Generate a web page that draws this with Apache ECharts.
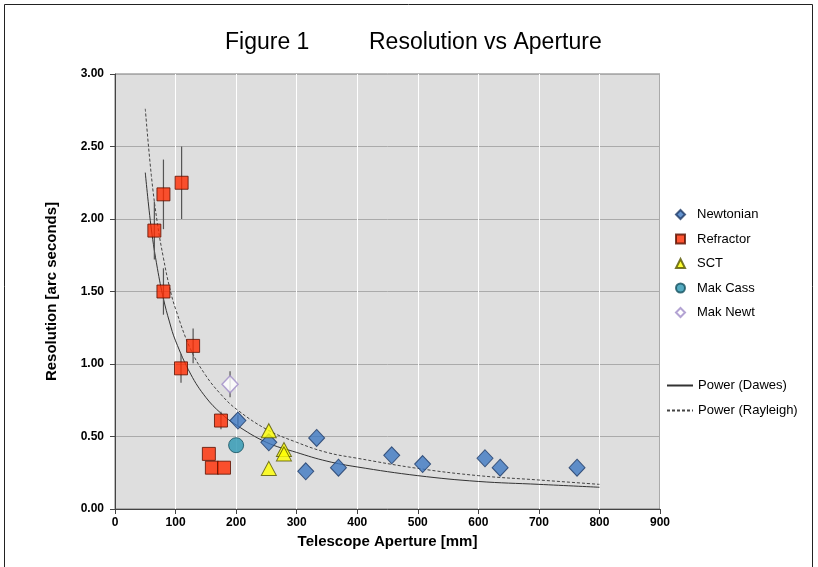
<!DOCTYPE html>
<html><head><meta charset="utf-8">
<script src="https://cdn.jsdelivr.net/npm/echarts@6/dist/echarts.min.js"></script>
<style>html,body{margin:0;padding:0;background:#fff}#c{width:818px;height:567px}</style>
</head><body><div id="c"></div>
<script>
// [aperture mm, resolution arcsec, error]
var newtonian = [[203,0.61,0.04],[254,0.46,0],[315,0.26,0],[333,0.49,0],[369,0.285,0],[457,0.37,0],[508,0.31,0],[611,0.35,0],[636,0.285,0],[763,0.285,0]];
var refractor = [[65,1.92,0.2],[80,2.17,0.24],[110,2.25,0.25],[80,1.50,0.16],[129,1.125,0.12],[109,0.97,0.1],[175,0.61,0.06],[155,0.38,0],[160,0.285,0],[180,0.285,0]];
var sct = [[254,0.54],[254,0.28],[279,0.41],[279,0.38]];
var makCass = [[200,0.44]];
var makNewt = [[190,0.86,0.09]];
var dawes = [[50,2.32],[60,1.93],[70,1.66],[80,1.45],[90,1.29],[100,1.16],[125,0.93],[150,0.77],[175,0.66],[200,0.58],[250,0.46],[300,0.39],[350,0.33],[400,0.29],[500,0.23],[600,0.19],[700,0.17],[800,0.15]];
var rayleigh = [[50,2.76],[60,2.30],[70,1.97],[80,1.73],[90,1.53],[100,1.38],[125,1.10],[150,0.92],[175,0.79],[200,0.69],[250,0.55],[300,0.46],[350,0.39],[400,0.35],[500,0.28],[600,0.23],[700,0.20],[800,0.17]];
var xTicks = [0,100,200,300,400,500,600,700,800,900];
var yTicks = [0,0.5,1,1.5,2,2.5,3];

var errData = [].concat(newtonian, refractor, makNewt).filter(function(d){return d[2]>0;});
var FONT = 'Liberation Sans, Arial, sans-serif';
var chart = echarts.init(document.getElementById('c'));
chart.setOption({
  animation:false,
  backgroundColor:'#fff',
  graphic:[{type:'rect',shape:{x:4.5,y:4.5,width:808,height:600},style:{fill:'none',stroke:'#222',lineWidth:1},silent:true}],
  title:[
    {text:'Figure 1',left:220,top:26,textStyle:{fontFamily:FONT,fontSize:23,fontWeight:'normal',color:'#000'}},
    {text:'Resolution vs Aperture',left:364,top:26,textStyle:{fontFamily:FONT,fontSize:23,fontWeight:'normal',color:'#000'}}
  ],
  grid:{left:115,right:158,top:74,bottom:58,show:true,backgroundColor:'#dedede',borderColor:'#777',borderWidth:1},
  legend:[
    {orient:'vertical',left:670,top:203,itemGap:11.5,itemWidth:9,itemHeight:9,
     textStyle:{fontFamily:FONT,fontSize:13,color:'#000',padding:[0,0,0,7]},
     data:['Newtonian','Refractor','SCT','Mak Cass','Mak Newt']},
    {orient:'vertical',left:661,top:374,itemGap:12,itemWidth:26,itemHeight:10,
     textStyle:{fontFamily:FONT,fontSize:13,color:'#000'},
     data:[{name:'Power (Dawes)',itemStyle:{opacity:0}},{name:'Power (Rayleigh)',itemStyle:{opacity:0}}]}
  ],
  xAxis:{type:'value',min:0,max:900,interval:100,
    name:'Telescope Aperture [mm]',nameLocation:'middle',nameGap:25,
    nameTextStyle:{fontFamily:FONT,fontSize:15,fontWeight:'bold',color:'#000'},
    axisLine:{lineStyle:{color:'#444'}},axisTick:{show:true,length:5,lineStyle:{color:'#444'}},
    axisLabel:{fontFamily:FONT,fontSize:12,fontWeight:'bold',color:'#000',margin:8},
    splitLine:{show:true,lineStyle:{color:'#fff',width:1}}},
  yAxis:{type:'value',min:0,max:3,interval:0.5,
    name:'Resolution [arc seconds]',nameLocation:'middle',nameGap:56,
    nameTextStyle:{fontFamily:FONT,fontSize:15,fontWeight:'bold',color:'#000'},
    axisLine:{show:true,lineStyle:{color:'#444'}},axisTick:{show:true,length:5,lineStyle:{color:'#444'}},
    axisLabel:{fontFamily:FONT,fontSize:12,fontWeight:'bold',color:'#000',margin:11,formatter:function(v){return v.toFixed(2);}},
    splitLine:{show:true,lineStyle:{color:'#aaa',width:1}}},
  series:[
    {name:'Power (Dawes)',type:'line',data:dawes,smooth:0.4,symbol:'none',z:2,
     lineStyle:{color:'#333',width:1},itemStyle:{color:'#333'}},
    {name:'Power (Rayleigh)',type:'line',data:rayleigh,smooth:0.4,symbol:'none',z:2,
     lineStyle:{color:'#444',width:1,type:[3,2]},itemStyle:{color:'#444'}},
    {name:'err',type:'custom',z:3,data:errData,
     renderItem:function(params,api){
       var x=api.value(0),y=api.value(1),e=api.value(2);
       var p1=api.coord([x,y+e]),p2=api.coord([x,y-e]);
       return {type:'line',shape:{x1:p1[0],y1:p1[1],x2:p2[0],y2:p2[1]},style:{stroke:'#555',lineWidth:1.2}};
     }},
    {name:'Newtonian',type:'scatter',data:newtonian,symbol:'diamond',symbolSize:[16,17],z:5,
     itemStyle:{color:'#3d78c2',borderColor:'#1e3a66',borderWidth:1}},
    {name:'Refractor',type:'scatter',data:refractor,symbol:'rect',symbolSize:13,z:5,
     itemStyle:{color:'#ff2a00',borderColor:'#5a1000',borderWidth:1}},
    {name:'SCT',type:'scatter',data:sct,symbol:'triangle',symbolSize:[15,14],z:5,
     itemStyle:{color:'#ffff00',borderColor:'#555500',borderWidth:1}},
    {name:'Mak Cass',type:'scatter',data:makCass,symbol:'circle',symbolSize:15,z:5,
     itemStyle:{color:'#2a96b2',borderColor:'#14505e',borderWidth:1}},
    {name:'Mak Newt',type:'scatter',data:makNewt,symbol:'diamond',symbolSize:[16,17],z:5,
     itemStyle:{color:'#ffffff',borderColor:'#a08cc8',borderWidth:1.5}}
  ]
});
</script></body></html>
